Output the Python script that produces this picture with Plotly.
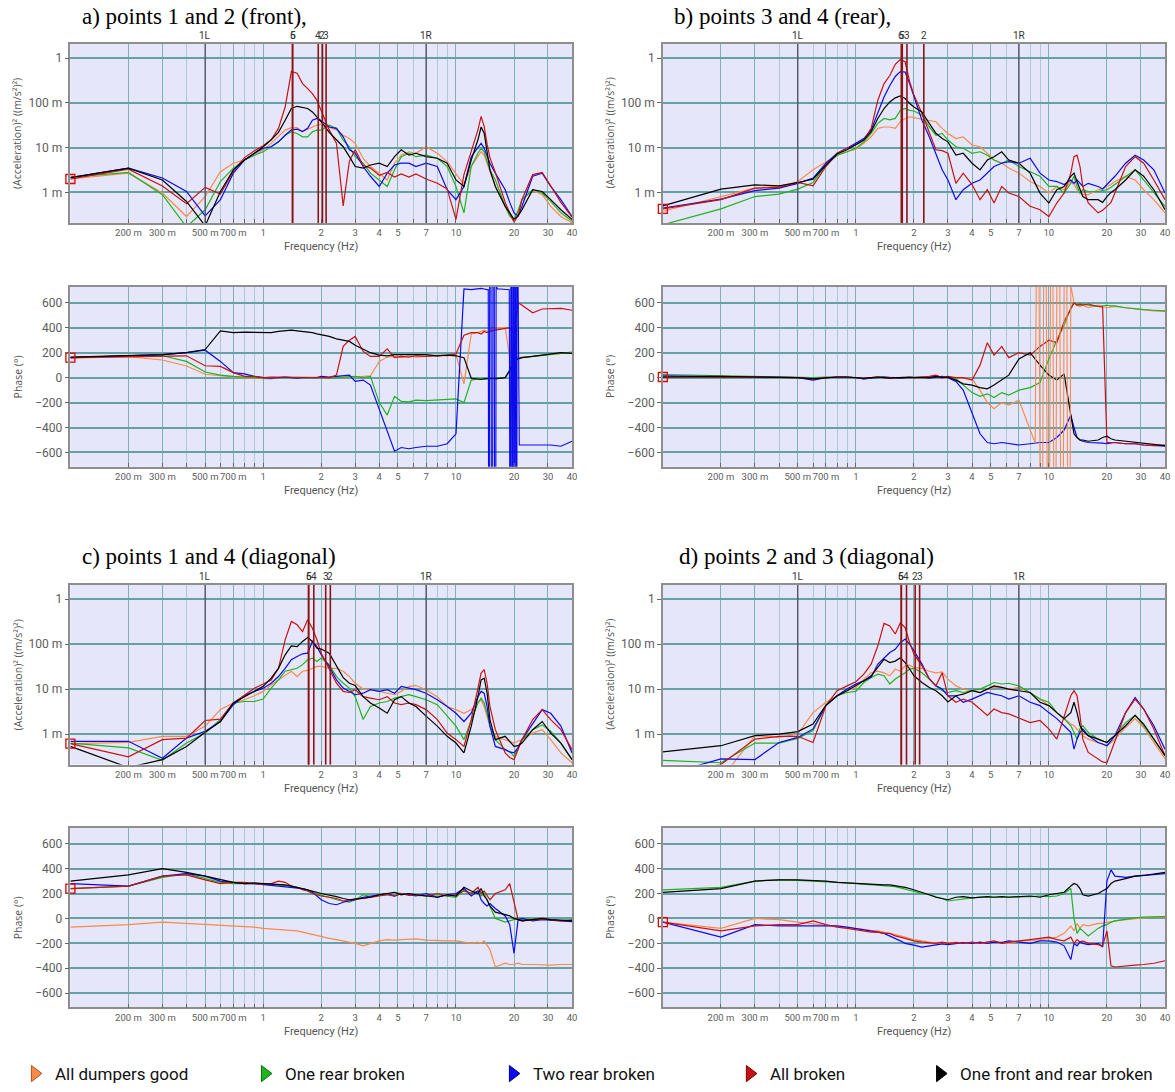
import math
import plotly.graph_objects as go

# ---------------- data (frequency grid in Hz) ----------------
FREQ = [0.1, 0.2, 0.3, 0.4, 0.5, 0.6, 0.7, 0.8, 0.9, 1.0,
        1.1, 1.2, 1.3, 1.4, 1.5, 1.6, 1.7, 1.8, 1.9, 2.0,
        2.2, 2.4, 2.6, 2.8, 3.0, 3.3, 3.6, 4.0, 4.4, 4.8,
        5.2, 5.7, 6.2, 7.0, 8.0, 9.0, 10, 11, 12, 13,
        13.5, 14, 14.5, 15, 16, 18, 19, 20, 21, 22,
        25, 28, 31, 35, 40]

SERIES_NAMES = ["All dumpers good", "One rear broken", "Two rear broken",
                "All broken", "One front and rear broken"]

# ---- magnitudes, in milli (m/s^2)^2 ----
A_MAG_ORANGE = [2.0, 2.7, 0.97, 0.29, 0.81, 2.9, 4.5, 5.3, 6.8, 9.0,
                12.5, 17.5, 24.7, 28, 28, 23, 26, 29, 32, 33.5,
                29, 25, 19, 16, 12.5, 5.8, 3.8, 2.7, 1.9, 4.5,
                6.8, 8.1, 7.5, 10.5, 7.5, 4.9, 2.7, 1.5, 3.8, 6.3,
                8.1, 6.8, 4.5, 2.9, 1.36, 0.49, 0.3, 0.23, 0.35, 0.69,
                1.1, 0.9, 0.49, 0.29, 0.21]
A_MAG_GREEN = [2.2, 2.8, 0.89, 0.17, 0.41, 1.75, 3.5, 5.3, 6.8, 8.1,
               10.5, 13.5, 19, 22.7, 20.8, 17.5, 17.5, 22.7, 24.7, 24.7,
               31.8, 27, 14.8, 10.5, 6.3, 4.5, 2.7, 1.9, 1.36, 3.2,
               6.3, 7.5, 6.3, 6.8, 5.8, 3.8, 1.36, 0.35, 3.8, 7.5,
               9.7, 8.1, 5.3, 3.2, 1.9, 0.49, 0.3, 0.25, 0.4, 0.69,
               1.15, 0.97, 0.63, 0.35, 0.23]
A_MAG_BLUE = [2.15, 3.5, 2.1, 1.05, 0.3, 0.69, 2.7, 5.3, 7.5, 9.7,
              10.5, 13.5, 19, 25, 26, 23, 27, 41, 45, 40,
              29, 27, 17.5, 9, 7.5, 3.8, 2.3, 1.36, 2.7, 4.1,
              4.5, 4.5, 3.8, 4.5, 3.8, 1.15, 0.69, 1.36, 6.3, 10.5,
              12.5, 9.7, 6.3, 4.5, 2.7, 1.15, 0.6, 0.35, 0.3, 0.49,
              2.3, 2.7, 1.36, 0.69, 0.29]
A_MAG_RED = [2.0, 3.3, 1.4, 0.56, 1.3, 0.92, 3.0, 6.0, 8.5, 11,
             15, 27, 81, 500, 460, 270, 208, 161, 114, 68,
             25, 12.5, 0.5, 5, 9, 4, 3.5, 2.4, 2.8, 2.2,
             2.6, 2.2, 2.6, 2.0, 1.6, 1.2, 0.25, 2.5, 8, 25,
             50, 30, 12, 6, 2.8, 0.6, 0.35, 0.22, 0.3, 0.7,
             2.5, 2.8, 1.4, 0.6, 0.28]
A_MAG_BLACK = [2.15, 3.5, 1.9, 0.63, 0.18, 1.05, 3.2, 5.3, 7.5, 10.5,
               15, 22, 41, 75, 84, 78, 75, 63, 49, 38,
               22, 15, 10.5, 6.3, 3.8, 3.5, 4.1, 4.5, 3.8, 6.3,
               9, 6.8, 7.5, 6.3, 5.8, 4.5, 1.9, 1.36, 5.3, 15,
               29, 21, 7.5, 3.2, 1.36, 0.49, 0.35, 0.25, 0.3, 0.41,
               1.15, 1.05, 0.69, 0.41, 0.25]

B_MAG_ORANGE = [0.38, 0.81, 1.25, 1.36, 1.75, 3.2, 4.9, 6.8, 8.1, 9.2,
                12.5, 17.5, 27, 29, 29, 27, 38, 45, 49, 47,
                45, 41, 38, 27, 20.8, 16, 17.5, 11.5, 10.5, 7.5,
                5.3, 4.5, 3.5, 2.7, 1.75, 1.36, 0.97, 1.36, 1.15, 1.75,
                1.5, 1.15, 0.97, 0.89, 0.89, 1.15, 1.2, 1.36, 1.5, 1.75,
                2.3, 1.9, 1.15, 0.69, 0.35]
B_MAG_GREEN = [0.19, 0.43, 0.81, 0.92, 1.19, 1.67, 4.1, 6.8, 8.1, 9.7,
               13.5, 20.8, 35, 45, 42, 45, 68, 75, 68, 66,
               53, 29, 19, 20.8, 14.8, 10.5, 9.7, 7.5, 8.1, 6.8,
               5.3, 4.5, 5.3, 3.8, 2.9, 2.3, 1.36, 1.36, 0.97, 1.6,
               2.3, 1.36, 0.97, 1.15, 1.05, 1.05, 1.1, 1.15, 1.3, 1.5,
               2.3, 3.2, 1.9, 0.97, 0.49]
B_MAG_BLUE = [0.45, 0.71, 1.1, 1.25, 1.6, 2.1, 4.5, 7.5, 9.7, 12.5,
              16, 25, 58, 135, 245, 390, 500, 490, 270, 135,
              41, 17.5, 7.5, 3.2, 1.9, 0.69, 1.15, 1.6, 1.9, 2.7,
              3.8, 4.5, 4.9, 4.5, 5.8, 2.7, 1.9, 1.75, 1.5, 1.9,
              1.6, 1.9, 1.6, 1.36, 1.6, 1.36, 1.2, 1.5, 1.8, 2.3,
              4.5, 6.8, 5.3, 3.2, 0.97]
B_MAG_RED = [0.43, 0.69, 1.25, 1.3, 1.67, 1.4, 3.8, 7.5, 9.7, 11.5,
             14.8, 27, 115, 270, 410, 730, 930, 830, 300, 150,
             58, 21, 9, 8.6, 7.5, 1.6, 2.7, 1.5, 0.69, 1.15,
             0.58, 1.36, 0.97, 0.81, 0.49, 0.41, 0.29, 0.58, 0.97, 2.7,
             6.3, 6.8, 3.8, 1.36, 0.58, 0.35, 0.4, 0.49, 0.6, 0.97,
             3.8, 6.3, 4.5, 1.9, 0.69]
B_MAG_BLACK = [0.5, 1.19, 1.48, 1.4, 1.67, 1.98, 4.1, 7.2, 9.0, 11.5,
               14.8, 22.7, 45, 75, 105, 130, 143, 125, 97, 81,
               63, 35, 21, 16, 13.5, 6.8, 7.5, 4.5, 3.2, 5.3,
               6.3, 8.1, 5.3, 4.5, 2.7, 0.97, 0.58, 1.15, 1.36, 2.3,
               2.7, 1.75, 1.15, 0.81, 0.69, 0.69, 0.6, 0.81, 1.0, 1.15,
               1.9, 3.2, 2.3, 1.15, 0.41]

C_MAG_ORANGE = [0.61, 0.65, 0.89, 0.89, 1.5, 3.5, 4.9, 5.8, 7.1, 8.9,
                12.5, 16, 21, 25, 19, 25, 26, 29, 32, 32,
                29, 29, 25, 19, 13.5, 10, 9.7, 8.9, 8.1, 7.5,
                8.9, 11.5, 12, 9.7, 6.8, 4.1, 3.5, 2.9, 3.5, 4.9,
                5.8, 4.1, 2.5, 1.5, 0.89, 0.75, 0.7, 0.63, 0.7, 0.75,
                1.05, 1.25, 0.75, 0.38, 0.23]
C_MAG_GREEN = [0.63, 0.49, 0.26, 0.63, 1.05, 2.1, 4.9, 5.3, 5.3, 6.0,
               10.5, 16, 25, 27, 29, 35, 45, 49, 41, 49,
               35, 19, 13.5, 10.5, 6.8, 2.1, 4.1, 4.9, 5.3, 6.3,
               6.8, 7.5, 6.8, 5.8, 4.5, 2.5, 1.5, 0.75, 2.1, 4.9,
               6.3, 4.9, 2.9, 1.5, 0.75, 0.45, 0.4, 0.32, 0.5, 0.75,
               1.25, 1.6, 1.15, 0.63, 0.27]
C_MAG_BLUE = [0.69, 0.69, 0.29, 0.81, 1.15, 1.9, 4.5, 7.1, 8.9, 10.5,
              13.5, 19, 29, 45, 53, 61, 63, 115, 88, 58,
              32, 16, 10.5, 8.9, 7.5, 8.1, 9.7, 8.9, 9.7, 8.1,
              11.5, 10.5, 9.7, 8.1, 5.8, 4.1, 2.9, 1.9, 2.9, 6.8,
              8.9, 8.1, 4.1, 1.5, 0.53, 0.45, 0.4, 0.38, 0.5, 0.75,
              1.75, 3.5, 2.9, 1.5, 0.38]
C_MAG_RED = [0.61, 0.31, 0.75, 0.81, 2.0, 2.15, 4.9, 7.5, 10.5, 13,
             16, 29, 125, 320, 270, 190, 350, 225, 125, 63,
             29, 13.5, 8.9, 8.4, 9.7, 6.8, 6.3, 5.8, 6.8, 4.9,
             4.5, 4.9, 4.5, 3.5, 2.1, 1.05, 0.75, 0.53, 2.1, 9.7,
             22.7, 27, 13.5, 4.1, 1.25, 0.38, 0.3, 0.27, 0.45, 0.75,
             2.1, 3.5, 2.1, 1.25, 0.45]
C_MAG_BLACK = [0.53, 0.18, 0.27, 0.53, 1.09, 1.9, 4.9, 6.8, 8.9, 11.5,
               17.5, 29, 58, 92, 88, 115, 140, 115, 81, 78,
               63, 32, 18, 13.5, 12, 6.8, 4.9, 3.8, 2.9, 5.8,
               6.8, 4.9, 4.1, 2.5, 1.5, 0.89, 0.63, 0.38, 1.5, 6.8,
               16, 17.5, 8.2, 2.1, 0.75, 0.89, 0.7, 0.53, 0.55, 0.63,
               1.25, 1.9, 1.05, 0.63, 0.27]

D_MAG_ORANGE = [0.05, 0.1, 0.92, 0.84, 1.0, 3.0, 5.1, 7.1, 9.2, 10.9,
                16.7, 23, 25, 23, 19.8, 28, 25, 33, 34, 30,
                29, 25, 23, 24, 16.7, 11.8, 10, 9.2, 8.4, 10,
                10.9, 10.9, 10, 10.9, 8.4, 6, 4.3, 3.0, 2.2, 1.67,
                1.53, 1.3, 1.09, 0.92, 0.77, 0.65, 0.6, 0.55, 0.65, 0.77,
                1.4, 2.2, 1.4, 0.65, 0.28]
D_MAG_GREEN = [0.26, 0.23, 0.63, 0.63, 0.8, 1.19, 4.3, 7.1, 8.4, 8.9,
               14, 18.2, 21.5, 19.8, 13, 16.7, 19.8, 23, 28, 29,
               23, 16.7, 11.8, 9.2, 8.4, 9.2, 8.4, 9.2, 10, 11.8,
               14, 13, 13.5, 11.8, 8.4, 6, 5.1, 3.0, 2.2, 1.53,
               1.09, 0.77, 1.3, 1.53, 1.09, 0.77, 0.7, 0.65, 0.75, 0.92,
               1.8, 2.6, 1.53, 0.77, 0.33]
D_MAG_BLUE = [0.12, 0.28, 0.27, 0.65, 0.84, 1.3, 4.3, 7.1, 10, 13,
              15.3, 18.2, 36, 50, 65, 77, 108, 130, 100, 71,
              36, 17, 11.8, 10, 7.1, 7.1, 5.1, 6, 7.1, 8.4,
              7.7, 7.1, 6, 7.1, 5.1, 4.3, 3.0, 2.2, 1.53, 1.09,
              0.46, 0.77, 1.09, 1.3, 0.92, 0.65, 0.6, 0.55, 0.7, 0.92,
              3.0, 6.5, 3.6, 1.53, 0.46]
D_MAG_RED = [0.12, 0.21, 0.77, 0.89, 0.89, 0.65, 4.3, 9.2, 11.8, 14.6,
             21.5, 36, 92, 290, 255, 168, 300, 235, 108, 60,
             33, 17, 11.8, 23, 7.1, 5.1, 6, 5.1, 3.6, 2.6,
             3.6, 3.0, 2.8, 2.3, 1.8, 2.0, 1.3, 0.77, 2.6, 7.1,
             9.2, 7.1, 2.6, 0.77, 0.39, 0.28, 0.24, 0.23, 0.4, 0.65,
             3.0, 6, 3.6, 1.3, 0.33]
D_MAG_BLACK = [0.4, 0.55, 0.92, 1.0, 1.13, 1.67, 4.4, 7.1, 9.2, 11.8,
               15.3, 19.8, 30, 46, 39, 42, 50, 39, 28, 19.8,
               14, 10.9, 9.2, 7.1, 5.2, 7.1, 7.7, 9.2, 8.4, 10,
               11.8, 10.9, 10, 9.2, 8.4, 5.1, 4.3, 3.0, 2.2, 3.0,
               5.1, 3.0, 1.53, 1.19, 0.92, 0.77, 0.7, 0.65, 0.8, 0.92,
               1.53, 2.6, 1.67, 0.77, 0.33]

# ---- phases, in degrees ----
A_PH_ORANGE = [155, 168, 141, 93, 27, 13, 5, 0, -5, -5,
               -10, 0, 5, 0, -5, 0, 0, 5, 0, -5,
               0, 5, 0, 10, 5, 10, 15, 130, 165, 170,
               160, 175, 165, 170, 180, 175, 185, -50, 350, 360,
               370, 380, 370, 380, 400, 400, 160, 160, 165, 165,
               170, 180, 190, 195, 200]
A_PH_GREEN = [160, 175, 175, 130, 45, 20, 10, 5, 0, -5,
              0, 0, 5, 0, 0, 0, 0, 0, -5, 0,
              -5, 0, 0, 5, 10, 0, 10, -200, -300, -150,
              -190, -195, -180, -185, -180, -175, -170, -200, -20, -10,
              -10, -10, -5, -10, 0, 0, 50, 140, 150, 160,
              170, 180, 190, 195, 205]
A_PH_BLUE = [160, 175, 185, 200, 220, 130, 40, 30, 10, 0,
             -5, 0, 5, 0, -5, 0, 0, 5, 0, 10,
             5, 10, 15, 20, -30, -20, -60, -250, -420, -590,
             -560, -570, -560, -550, -550, -530, -450, 710, 705, 710,
             715, 710, 705, None, None, None, None, None, None, -540,
             -540, -545, -540, -550, -510]
A_PH_RED = [160, 170, 175, 175, 95, 90, 40, 10, 10, 0,
            5, 5, 0, 5, 0, 5, 0, 0, 0, 5,
            0, 20, 250, 300, 330, 210, 170, 170, 230, 160,
            170, 165, 175, 170, 175, 180, 190, 340, 360, 360,
            350, 370, 360, 370, 380, 390, 400, 350, 600, 580,
            520, 550, 550, 555, 540]
A_PH_BLACK = [165, 175, 185, 200, 225, 375, 360, 365, 365, 365,
              360, 370, 375, 380, 375, 370, 365, 360, 350, 345,
              330, 310, 300, 290, 260, 230, 200, 180, 175, 185,
              185, 185, 180, 185, 175, 180, 175, 160, -5, -10,
              -15, -10, -5, -5, -10, 0, 60, 140, 150, 160,
              170, 180, 190, 200, 195]
BLUE_A_BURST_F = [14.5, 14.7, 14.75, 14.9, 14.95, 15.2, 15.25, 15.5, 15.55, 15.8,
                  15.85, 16.1, 16.15, 16.4, 17.0, 18.0, 18.9, 19.0, 19.2, 19.25,
                  19.45, 19.5, 19.7, 19.75, 19.95, 20.0, 20.2, 20.25, 20.45, 20.5,
                  20.7, 20.75, 21.0, 21.3, 22.0]
BLUE_A_BURST = [705, 705, -740, -740, 740, 740, -740, -740, 740, 740,
                -740, -740, 740, 710, 710, 705, 705, -740, -740, 740,
                740, -740, -740, 740, 740, -740, -740, 740, 740, -740,
                -740, 740, 740, -540, -540]

B_PH_ORANGE = [10, 8, 5, 5, 0, -5, 0, 5, 5, 0,
               -10, 0, 5, 5, 0, -5, 0, 5, 0, -5,
               0, 0, 5, 0, 5, 0, -5, -10, -100, -200,
               -250, -200, -220, -180, -420, None, None, None, None, None,
               600, 580, 570, 580, 560, 580, 570, 560, 565, 570,
               560, 550, 540, 535, 530]
B_PH_GREEN = [25, 15, 10, 10, 5, 0, 5, 5, 0, 0,
              -10, 0, 5, 5, 0, 0, 0, 5, 5, 0,
              5, 0, 10, 0, 5, -10, -60, -120, -150, -130,
              -160, -120, -140, -100, -80, -40, 150, 300, 420, 560,
              600, 590, 580, 590, 580, 570, 575, 580, 575, 575,
              560, 550, 545, 540, 535]
B_PH_BLUE = [15, 10, 5, 0, 0, -20, 0, 5, 5, 0,
             -10, -5, 0, 5, 0, -5, -5, 0, 5, 0,
             5, -5, 0, 10, 0, -30, -100, -280, -450, -520,
             -530, -520, -530, -540, -530, -520, -520, -480, -420, -300,
             -400, -480, -500, -510, -520, -520, -525, -530, -525, -520,
             -530, -530, -540, -545, -550]
B_PH_RED = [5, 5, 5, 5, 0, -10, 0, 5, 5, 0,
            -5, 0, 5, 0, -5, 0, 0, 5, 0, 0,
            5, 10, 20, 0, 10, 0, 0, -20, 100, 280,
            180, 250, 160, 200, 180, 250, 300, 280, 450, 550,
            600, 580, 590, 580, 590, 570, 565, -520, -520, -520,
            -530, -530, -540, -545, -540]
B_PH_BLACK = [5, 10, 5, 5, 0, -10, 0, 5, 5, 0,
              -5, 0, 5, 0, -5, 0, 0, 0, 5, 0,
              5, 0, 10, 0, 5, -20, -50, -60, -80, -90,
              -60, -20, 20, 150, 200, 100, 20, -20, 30, -300,
              -450, -480, -500, -500, -510, -500, -480, -470, -490, -500,
              -510, -520, -530, -540, -545]
ORANGE_B_BURST_F = [8.0, 8.5, 8.6, 8.9, 9.0, 9.3, 9.4, 9.7, 9.8, 10.1,
                    10.2, 10.5, 10.6, 10.9, 11.0, 11.4, 11.5, 11.9, 12.0, 12.4,
                    12.5, 12.9, 13.0, 13.5]
ORANGE_B_BURST = [-420, -520, 740, 740, -740, -740, 740, 740, -740, -740,
                  740, 740, -740, -740, 740, 740, -740, -740, 740, 740,
                  -740, -740, 740, 600]

C_PH_ORANGE = [-70, -50, -30, -40, -50, -55, -60, -65, -70, -80,
               -85, -90, -95, -100, -100, -110, -120, -130, -140, -150,
               -160, -170, -180, -190, -200, -220, -200, -180, -170, -175,
               -170, -170, -165, -175, -180, -180, -180, -190, -200, -190,
               -200, -180, -220, -250, -390, -360, -370, -370, -360, -370,
               -370, -375, -375, -370, -370]
C_PH_GREEN = [240, 260, 330, 360, 320, 290, 280, 280, 285, 280,
              275, 270, 265, 260, 250, 240, 230, 215, 200, 185,
              170, 150, 140, 130, 150, 190, 175, 185, 190, 210,
              200, 190, 185, 180, 190, 180, 170, 230, 200, 220,
              180, 200, 150, 100, 0, -30, -20, -10, 0, -10,
              -5, 0, -10, -15, -10]
C_PH_BLUE = [280, 260, 340, 360, 340, 300, 290, 280, 280, 270,
             265, 260, 255, 250, 250, 240, 230, 210, 180, 150,
             120, 110, 130, 140, 150, 170, 180, 190, 200, 180,
             200, 190, 180, 200, 170, 190, 200, 240, 180, 220,
             150, 120, 100, 120, 80, 20, -50, -280, -10, 0,
             -20, -10, -15, -20, -25]
C_PH_RED = [240, 260, 340, 350, 310, 280, 290, 290, 280, 275,
            280, 300, 290, 260, 250, 230, 220, 200, 190, 180,
            170, 160, 140, 150, 155, 160, 170, 185, 190, 180,
            200, 185, 190, 180, 200, 180, 190, 220, 200, 250,
            200, 220, 180, 150, 200, 230, 280, 120, -10, -20,
            -10, -5, -10, -20, -15]
C_PH_BLACK = [300, 350, 400, 370, 340, 310, 290, 280, 285, 280,
              275, 270, 270, 260, 250, 240, 230, 220, 210, 200,
              190, 175, 160, 150, 155, 160, 170, 190, 200, 210,
              190, 200, 190, 180, 170, 190, 180, 250, 220, 200,
              240, 180, 150, 100, 50, 30, 20, 0, -10, -20,
              -10, 0, -10, -15, -20]

D_PH_ORANGE = [-30, -80, 0, -10, -30, -45, -55, -65, -75, -80,
               -90, -95, -100, -110, -120, -130, -140, -150, -160, -170,
               -180, -190, -200, -200, -200, -190, -200, -195, -200, -190,
               -195, -190, -200, -185, -180, -170, -160, -150, -120, -60,
               -100, -40, -80, -50, -60, -40, -40, -30, -30, -20,
               -10, 0, 5, 10, 10]
D_PH_GREEN = [230, 250, 300, 310, 305, 300, 295, 290, 285, 280,
              275, 270, 270, 265, 260, 255, 245, 235, 225, 215,
              200, 190, 175, 160, 140, 150, 160, 165, 170, 170,
              175, 170, 175, 170, 175, 180, 175, 180, 200, 240,
              0, -120, -80, -100, -140, -80, -60, -50, -30, -20,
              -5, 5, 10, 15, 15]
D_PH_BLUE = [-30, -150, -50, -60, -60, -60, -55, -60, -70, -80,
             -90, -100, -110, -120, -140, -160, -180, -200, -210, -215,
             -230, -220, -210, -205, -210, -200, -195, -200, -190, -200,
             -190, -195, -180, -190, -200, -180, -180, -190, -220, -330,
             -200, -220, -190, -200, -210, -200, -230, 300, 390, 340,
             330, 340, 345, 350, 360]
D_PH_RED = [-30, -100, -60, -50, -50, -20, -50, -70, -80, -90,
            -100, -110, -110, -120, -120, -140, -150, -160, -170, -180,
            -190, -195, -200, -190, -200, -195, -200, -190, -200, -190,
            -180, -200, -190, -180, -170, -160, -150, -170, -180, -150,
            -200, -170, -190, -180, -200, -210, -220, -100, -380, -390,
            -385, -375, -370, -360, -340]
D_PH_BLACK = [210, 240, 300, 310, 310, 305, 300, 290, 285, 280,
              275, 275, 270, 270, 270, 265, 260, 250, 240, 230,
              210, 190, 170, 160, 150, 170, 175, 165, 170, 175,
              170, 175, 170, 175, 180, 170, 190, 200, 210, 260,
              280, 270, 240, 190, 180, 200, 220, 240, 280, 300,
              320, 340, 345, 355, 370]

# marker (cursor) lines above the magnitude plots
MARK_LABELS_A = ["1L", "6", "5", "4", "2", "3", "1R"]
MARK_FREQS_A = [0.5, 1.42, 1.42, 1.93, 2.03, 2.12, 7.0]
MARK_LABELS_B = ["1L", "6", "5", "3", "2", "1R"]
MARK_FREQS_B = [0.5, 1.72, 1.74, 1.84, 2.25, 7.0]
MARK_LABELS_C = ["1L", "6", "5", "4", "3", "2", "1R"]
MARK_FREQS_C = [0.5, 1.72, 1.72, 1.83, 2.11, 2.23, 7.0]
MARK_LABELS_D = ["1L", "6", "5", "4", "2", "3", "1R"]
MARK_FREQS_D = [0.5, 1.72, 1.72, 1.83, 2.03, 2.14, 7.0]

XTICK_VALS = [0.2, 0.3, 0.5, 0.7, 1, 2, 3, 4, 5, 7, 10, 20, 30, 40]
XTICK_TEXT = ["200 m", "300 m", "500 m", "700 m", "1", "2", "3", "4", "5", "7", "10", "20", "30", "40"]
XMINOR_VALS = [0.4, 0.6, 0.8, 0.9, 6, 8, 9]
YMAG_VALS = [1, 10, 100, 1000]
YMAG_TEXT = ["1 m", "10 m", "100 m", "1"]
YPH_VALS = [-600, -400, -200, 0, 200, 400, 600]

# ---------------- styling ----------------
COLORS = ["#F98A4C", "#1FB31F", "#0A0AF0", "#C81212", "#000000"]
EDGES = ["#B8501C", "#0E6E0E", "#00008A", "#7A0000", "#000000"]
NARROW = "Roboto, Liberation Sans Narrow, sans-serif"
SANS = "Open Sans, DejaVu Sans, sans-serif"
SERIF = "Liberation Serif, Times New Roman, serif"

W, H = 1175, 1092
COL_X = {"L": (70.7, 574.5), "R": (665.7, 1170.0)}
ROW_Y = {"top": ((44.0, 223.3), (287.3, 467.7)), "bot": ((586.0, 766.0), (829.3, 1009.3))}

PANELS = [
    dict(title="a) points 1 and 2 (front),", col="L", row="top", tx=80, ty=17,
         mag=[A_MAG_ORANGE, A_MAG_GREEN, A_MAG_BLUE, A_MAG_RED, A_MAG_BLACK],
         ph=[A_PH_ORANGE, A_PH_GREEN, A_PH_BLUE, A_PH_RED, A_PH_BLACK],
         marks=(MARK_LABELS_A, MARK_FREQS_A),
         bursts=[(BLUE_A_BURST_F, BLUE_A_BURST, 2)]),
    dict(title="b) points 3 and 4 (rear),", col="R", row="top", tx=675, ty=17,
         mag=[B_MAG_ORANGE, B_MAG_GREEN, B_MAG_BLUE, B_MAG_RED, B_MAG_BLACK],
         ph=[B_PH_ORANGE, B_PH_GREEN, B_PH_BLUE, B_PH_RED, B_PH_BLACK],
         marks=(MARK_LABELS_B, MARK_FREQS_B),
         bursts=[(ORANGE_B_BURST_F, ORANGE_B_BURST, 0)]),
    dict(title="c) points 1 and 4 (diagonal)", col="L", row="bot", tx=80, ty=558,
         mag=[C_MAG_ORANGE, C_MAG_GREEN, C_MAG_BLUE, C_MAG_RED, C_MAG_BLACK],
         ph=[C_PH_ORANGE, C_PH_GREEN, C_PH_BLUE, C_PH_RED, C_PH_BLACK],
         marks=(MARK_LABELS_C, MARK_FREQS_C), bursts=[]),
    dict(title="d) points 2 and 3 (diagonal)", col="R", row="bot", tx=680, ty=558,
         mag=[D_MAG_ORANGE, D_MAG_GREEN, D_MAG_BLUE, D_MAG_RED, D_MAG_BLACK],
         ph=[D_PH_ORANGE, D_PH_GREEN, D_PH_BLUE, D_PH_RED, D_PH_BLACK],
         marks=(MARK_LABELS_D, MARK_FREQS_D), bursts=[]),
]

for p in PANELS:
    for arr in p["mag"] + p["ph"]:
        assert len(arr) == len(FREQ), (p["title"], len(arr))

fig = go.Figure()
layout = dict(width=W, height=H, margin=dict(l=0, r=0, t=0, b=0),
              paper_bgcolor="white", plot_bgcolor="#E6E6FA", showlegend=True)
annotations, shapes = [], []

tickfont = dict(family=NARROW, size=9.5, color="#5c5c5c")

idx = 0
for p in PANELS:
    x0, x1 = COL_X[p["col"]]
    annotations.append(dict(text=p["title"], x=p["tx"] / W, y=1 - p["ty"] / H, xref="paper", yref="paper",
                            xanchor="left", yanchor="middle", showarrow=False,
                            font=dict(family=SERIF, size=23, color="#000")))
    for kind in ("mag", "ph"):
        idx += 1
        ytop, ybot = ROW_Y[p["row"]][0 if kind == "mag" else 1]
        xa = "x" if idx == 1 else f"x{idx}"
        ya = "y" if idx == 1 else f"y{idx}"
        xkey = "xaxis" if idx == 1 else f"xaxis{idx}"
        ykey = "yaxis" if idx == 1 else f"yaxis{idx}"
        layout[xkey] = dict(domain=[x0 / W, x1 / W], anchor=ya, type="log",
                            range=[-1, math.log10(40)], tickvals=XTICK_VALS, ticktext=XTICK_TEXT,
                            tickfont=tickfont, tickangle=0, showgrid=True, gridcolor="#7FAEB3", gridwidth=1,
                            ticks="inside", ticklen=4, tickcolor="#666",
                            minor=dict(tickvals=XMINOR_VALS, showgrid=True, gridcolor="#AFC7D8",
                                       gridwidth=1, ticks="inside", ticklen=4, tickcolor="#666"),
                            showline=True, mirror=True, linecolor="#8E8E8E", linewidth=1.5,
                            zeroline=False, fixedrange=True)
        if kind == "mag":
            layout[ykey] = dict(domain=[1 - ybot / H, 1 - ytop / H], anchor=xa, type="log",
                                range=[-0.68, 3.318], tickvals=YMAG_VALS, ticktext=YMAG_TEXT,
                                tickfont=dict(family=NARROW, size=12, color="#5c5c5c"),
                                showgrid=True, gridcolor="#65A0A4", gridwidth=2,
                                ticks="outside", ticklen=4, tickcolor="#666",
                                showline=True, mirror=True, linecolor="#8E8E8E", linewidth=1.5,
                                zeroline=False)
            ytitle = "(Acceleration)\u00b2 ((m/s\u00b2)\u00b2)"
        else:
            layout[ykey] = dict(domain=[1 - ybot / H, 1 - ytop / H], anchor=xa,
                                range=[-715, 728], tickvals=YPH_VALS,
                                tickfont=dict(family=NARROW, size=12, color="#5c5c5c"),
                                showgrid=True, gridcolor="#65A0A4", gridwidth=2,
                                ticks="outside", ticklen=4, tickcolor="#666",
                                showline=True, mirror=True, linecolor="#8E8E8E", linewidth=1.5,
                                zeroline=False)
            ytitle = "Phase (\u00b0)"
        # axis titles
        annotations.append(dict(text=ytitle, x=(x0 - 53) / W, y=1 - (ytop + ybot) / 2 / H,
                                xref="paper", yref="paper", textangle=-90, showarrow=False,
                                xanchor="center", yanchor="middle",
                                font=dict(family=SANS, size=10.5, color="#555")))
        annotations.append(dict(text="Frequency (Hz)", x=(x0 + x1) / 2 / W, y=1 - (ybot + 24) / H,
                                xref="paper", yref="paper", showarrow=False,
                                xanchor="center", yanchor="middle",
                                font=dict(family=NARROW, size=11, color="#555")))
        data = p[kind]
        for s in range(5):
            fig.add_trace(go.Scatter(x=FREQ, y=data[s], xaxis=xa, yaxis=ya, mode="lines",
                                     line=dict(color=COLORS[s], width=1.2), showlegend=False,
                                     connectgaps=False, hoverinfo="skip"))
        if kind == "ph":
            for bf, bv, s in p["bursts"]:
                fig.add_trace(go.Scatter(x=bf, y=bv, xaxis=xa, yaxis=ya, mode="lines",
                                         line=dict(color=COLORS[s], width=1.1), showlegend=False,
                                         hoverinfo="skip"))
        # red cursor square at the first point of the "All broken" series
        fig.add_trace(go.Scatter(x=[FREQ[0]], y=[data[3][0]], xaxis=xa, yaxis=ya, mode="markers",
                                 marker=dict(symbol="square-open", size=9, color="#E00000",
                                             line=dict(width=1.3)),
                                 showlegend=False, hoverinfo="skip", cliponaxis=False))
        if kind == "mag":
            labels, freqs = p["marks"]
            for lab, f in zip(labels, freqs):
                is_side = lab in ("1L", "1R")
                col = "#4E4E66" if is_side else "#8E1414"
                shapes.append(dict(type="line", xref=xa, yref="paper", x0=f, x1=f,
                                   y0=1 - ybot / H, y1=1 - ytop / H,
                                   line=dict(color=col, width=1.6 if not is_side else 1.3),
                                   layer="above"))
                annotations.append(dict(text=lab, x=math.log10(f), xref=xa, yref="paper",
                                        y=1 - (ytop - 1) / H, yanchor="bottom", xanchor="center",
                                        showarrow=False,
                                        font=dict(family=NARROW, size=10, color="#333")))

# legend: one legend box per series, placed along the bottom
LEG_X = [15, 246, 495, 733, 924]
for s in range(5):
    lname = "legend" if s == 0 else f"legend{s + 1}"
    fig.add_trace(go.Scatter(x=[None], y=[None], mode="markers", name=SERIES_NAMES[s],
                             marker=dict(symbol="triangle-right", size=14, color=COLORS[s],
                                         line=dict(color=EDGES[s], width=1)),
                             legend=lname, showlegend=True, hoverinfo="skip"))
    layout[lname] = dict(x=LEG_X[s] / W, y=1 - 1076 / H, xanchor="left", yanchor="middle",
                         orientation="h", bgcolor="rgba(0,0,0,0)",
                         font=dict(family=NARROW, size=17, color="#111"))

layout["annotations"] = annotations
layout["shapes"] = shapes
fig.update_layout(**layout)
fig.write_html("out.html", config={"displayModeBar": False},
               post_script="document.body.style.margin='0px';document.body.style.overflow='hidden';")
